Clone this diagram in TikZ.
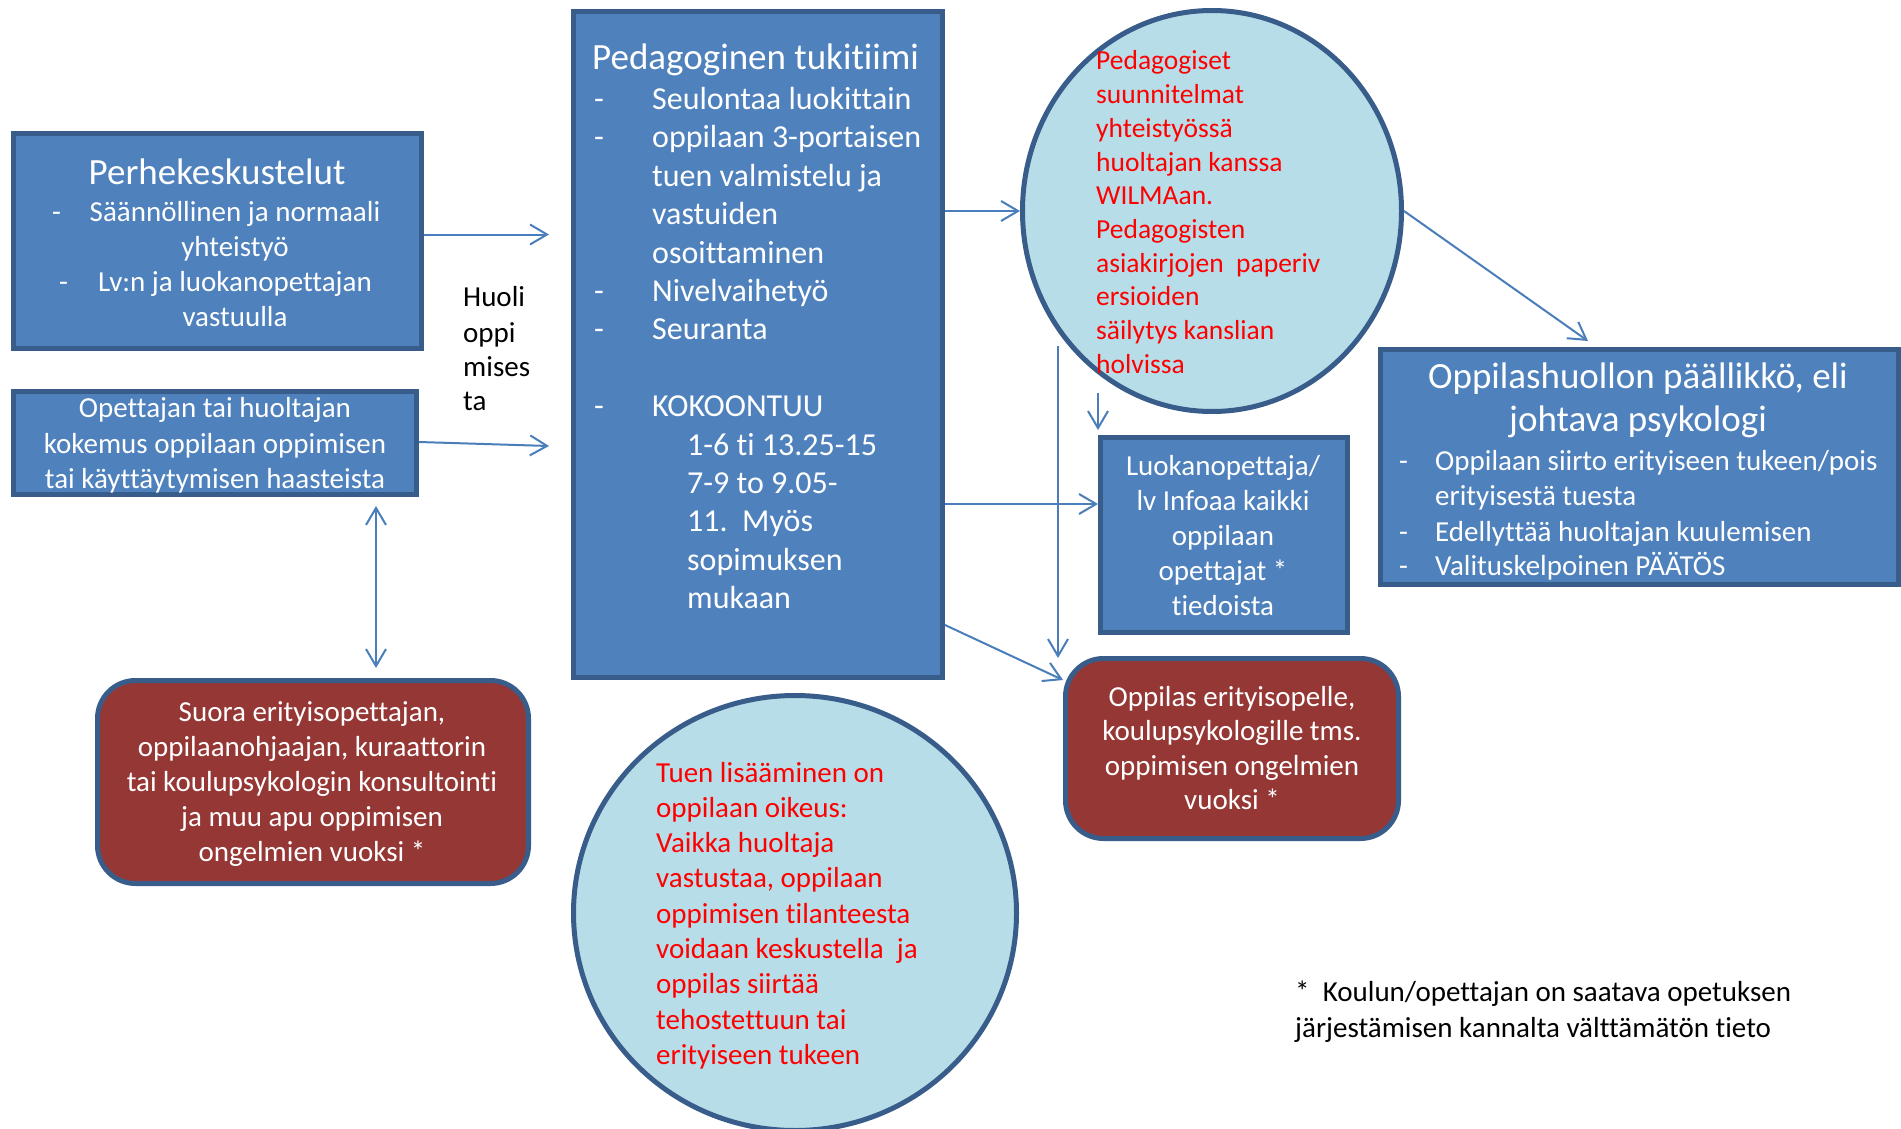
\documentclass[tikz,border=0pt]{standalone}
\usepackage{fontspec}
\setmainfont{Carlito}[Ligatures={TeX,NoCommon}]
\usetikzlibrary{shapes.geometric,arrows.meta}
\definecolor{boxfill}{HTML}{4F81BD}
\definecolor{boxline}{HTML}{385D8A}
\definecolor{redfill}{HTML}{953735}
\definecolor{circfill}{HTML}{B7DDE8}
\definecolor{arrowc}{HTML}{4A7EBB}
\definecolor{redtext}{HTML}{FF0000}
\tikzset{
  bluebox/.style={rectangle, fill=boxfill, draw=boxline, line width=5pt, inner sep=0pt},
  redbox/.style={rectangle, rounded corners=38pt, fill=redfill, draw=boxline, line width=5pt, inner sep=0pt},
  circbox/.style={ellipse, fill=circfill, draw=boxline, line width=5pt, inner sep=0pt},
  wtext/.style={text=white, inner sep=0pt, font=\fontsize{29}{35}\selectfont},
  wbig/.style={text=white, inner sep=0pt, font=\fontsize{32}{38.4}\selectfont},
  wtitle/.style={text=white, inner sep=0pt, font=\fontsize{37}{44}\selectfont},
  rtext/.style={text=redtext, inner sep=0pt, font=\fontsize{27.5}{33.7}\selectfont},
  rtextb/.style={text=redtext, inner sep=0pt, font=\fontsize{29}{35.3}\selectfont},
  btext/.style={text=black, inner sep=0pt, font=\fontsize{29}{35}\selectfont},
  arr/.style={draw=arrowc, line width=2pt, -{Straight Barb[length=17pt,width=20pt,line width=2pt]}},
  darr/.style={draw=arrowc, line width=2pt, {Straight Barb[length=17pt,width=20pt,line width=2pt]}-{Straight Barb[length=17pt,width=20pt,line width=2pt]}}
}
\begin{document}
\begin{tikzpicture}[x=1pt,y=-1pt]
\fill[white] (0,0) rectangle (1901,1129);
\useasboundingbox (0,0) rectangle (1901,1129);

% ---------- boxes ----------
\node[bluebox, minimum width=408pt, minimum height=215pt] (perhe) at (217.5,241) {};
\node[bluebox, minimum width=403pt, minimum height=103pt] (opet) at (215,443) {};
\node[bluebox, minimum width=369pt, minimum height=666pt] (ped) at (758,344.5) {};
\node[circbox, minimum width=379pt, minimum height=401pt] (circ) at (1212,211) {};
\node[bluebox, minimum width=247pt, minimum height=195pt] (luoka) at (1224,535) {};
\node[bluebox, minimum width=518pt, minimum height=235pt] (opph) at (1639.5,467) {};
\node[redbox, minimum width=431pt, minimum height=203pt] (suora) at (313,782) {};
\node[redbox, minimum width=333pt, minimum height=180pt] (oppilas) at (1232,748.5) {};
\node[circbox, minimum width=443pt, minimum height=435pt] (circb) at (795,913) {};

% ---------- Perhekeskustelut ----------
\node[wtitle, anchor=base] (perheT) at (217,184) {Perhekeskustelut};
\node[wtext, anchor=base west] (perheD1) at (52,221) {-};
\node[wtext, anchor=base] (perheL1) at (235,221) {Säännöllinen ja normaali};
\node[wtext, anchor=base] (perheL2) at (235,256) {yhteistyö};
\node[wtext, anchor=base west] (perheD2) at (59,291) {-};
\node[wtext, anchor=base] (perheL3) at (235,291) {Lv:n ja luokanopettajan};
\node[wtext, anchor=base] (perheL4) at (235,326) {vastuulla};

% ---------- Opettajan ----------
\node[wtext, anchor=base] (opetL1) at (215,417) {Opettajan tai huoltajan};
\node[wtext, anchor=base] (opetL2) at (215,453) {kokemus oppilaan oppimisen};
\node[wtext, anchor=base] (opetL3) at (215,488) {tai käyttäytymisen haasteista};

% ---------- Huoli ----------
\node[btext, anchor=base west] (huoli1) at (463,306) {Huoli};
\node[btext, anchor=base west] (huoli2) at (463,342) {oppi};
\node[btext, anchor=base west] (huoli3) at (463,376) {mises};
\node[btext, anchor=base west] (huoli4) at (463,410) {ta};

% ---------- Pedagoginen tukitiimi ----------
\node[wtitle, anchor=base west] (pedT) at (592,70) {Pedagoginen tukitiimi};
\foreach \i in {0,1,5,6,8}
  \node[wbig, anchor=base west] (pedD\i) at (594,{109.5+38.4*\i}) {-};
\foreach \i/\t in {0/{Seulontaa luokittain},1/{oppilaan 3-portaisen},2/{tuen valmistelu ja},3/{vastuiden},4/{osoittaminen},5/{Nivelvaihetyö},6/{Seuranta},8/{KOKOONTUU}}
  \node[wbig, anchor=base west] (pedL\i) at (652,{109.5+38.4*\i}) {\t};
\foreach \i/\t in {9/{1-6 ti 13.25-15},10/{7-9 to 9.05-},11/{11.\ \ Myös},12/{sopimuksen},13/{mukaan}}
  \node[wbig, anchor=base west] (pedL\i) at (687,{109.5+38.4*\i}) {\t};

% ---------- top circle ----------
\foreach \i/\t in {0/{Pedagogiset},1/{suunnitelmat},2/{yhteistyössä},3/{huoltajan kanssa},4/{WILMAan.},5/{Pedagogisten},6/{asiakirjojen\ \ paperiv},7/{ersioiden},8/{säilytys kanslian},9/{holvissa}}
  \node[rtext, anchor=base west] (circL\i) at (1096,{70+33.7*\i}) {\t};

% ---------- bottom circle ----------
\foreach \i/\t in {0/{Tuen lisääminen on},1/{oppilaan oikeus:},2/{Vaikka huoltaja},3/{vastustaa, oppilaan},4/{oppimisen tilanteesta},5/{voidaan keskustella\ \ ja},6/{oppilas siirtää},7/{tehostettuun tai},8/{erityiseen tukeen}}
  \node[rtextb, anchor=base west] (circbL\i) at (656,{782+35.3*\i}) {\t};

% ---------- Oppilashuollon paallikko ----------
\node[wtitle, anchor=base] (opphT1) at (1638,388) {Oppilashuollon päällikkö, eli};
\node[wtitle, anchor=base] (opphT2) at (1638,431) {johtava psykologi};
\foreach \i/\y in {0/470,2/541,3/575}
  \node[wtext, anchor=base west] (opphD\i) at (1399,\y) {-};
\foreach \i/\y/\t in {0/470/{Oppilaan siirto erityiseen tukeen/pois},1/505/{erityisestä tuesta},2/541/{Edellyttää huoltajan kuulemisen},3/575/{Valituskelpoinen PÄÄTÖS}}
  \node[wtext, anchor=base west] (opphL\i) at (1435,\y) {\t};

% ---------- Luokanopettaja ----------
\foreach \i/\t in {0/{Luokanopettaja/},1/{lv Infoaa kaikki},2/{oppilaan},3/{opettajat *},4/{tiedoista}}
  \node[wtext, anchor=base] (luokaL\i) at (1223,{475+35.1*\i}) {\t};

% ---------- Suora ----------
\foreach \i/\t in {0/{Suora erityisopettajan,},1/{oppilaanohjaajan, kuraattorin},2/{tai koulupsykologin konsultointi},3/{ja muu apu oppimisen},4/{ongelmien vuoksi *}}
  \node[wtext, anchor=base] (suoraL\i) at (312,{721+35.15*\i}) {\t};

% ---------- Oppilas ----------
\foreach \i/\t in {0/{Oppilas erityisopelle,},1/{koulupsykologille tms.},2/{oppimisen ongelmien},3/{vuoksi *}}
  \node[wtext, anchor=base] (oppilasL\i) at (1232,{706+34.6*\i}) {\t};

% ---------- footnote ----------
\node[btext, anchor=base west] (foot1) at (1295,1001) {*\ \ Koulun/opettajan on saatava opetuksen};
\node[btext, anchor=base west] (foot2) at (1295,1037) {järjestämisen kannalta välttämätön tieto};

% ---------- connectors ----------
\coordinate (a1) at (549,234.5);
\draw[arr] (perhe.east |- a1) -- (a1);
\coordinate (a2s) at (419,442);
\coordinate (a2) at (549,446);
\draw[arr] (opet.east |- a2s) -- (a2);
\coordinate (d1) at (376,506);
\coordinate (d2) at (376,668);
\draw[darr] (d1) -- (d2);
\draw[arr] (ped.east |- circ.west) -- (circ.west);
\coordinate (o1) at (1588,341);
\draw[arr] (circ.east) -- (o1);
\coordinate (l1) at (1098,504);
\draw[arr] (ped.east |- l1) -- (l1);
\coordinate (s1) at (1098,393);
\coordinate (s2) at (1098,430);
\draw[arr] (s1) -- (s2);
\coordinate (v1) at (1058,346);
\coordinate (v2) at (1058,658);
\draw[arr] (v1) -- (v2);
\coordinate (g1) at (945,625);
\coordinate (g2) at (1063,680);
\draw[arr] (g1) -- (g2);
\end{tikzpicture}
\end{document}
